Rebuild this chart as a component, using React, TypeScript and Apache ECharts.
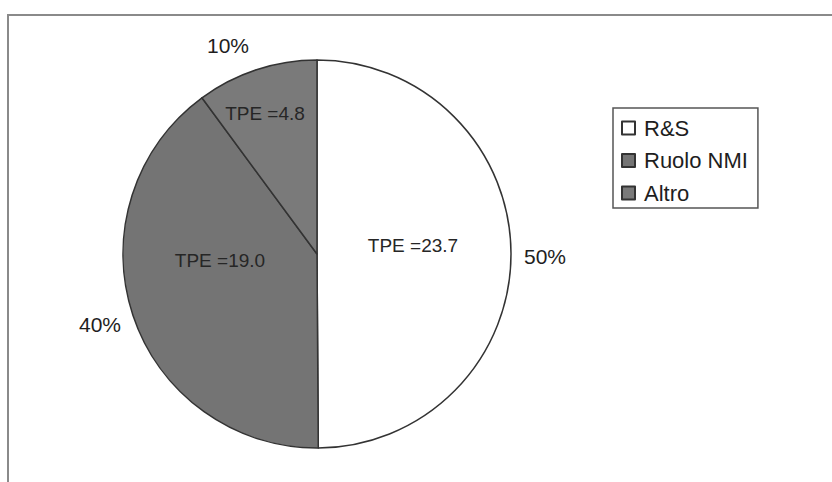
import React, { useEffect, useRef } from "react";
import * as echarts from "echarts";

const categories = ["R&S", "Ruolo NMI", "Altro"];
const tpeValues = [23.7, 19.0, 4.8];
const sliceColors = ["#ffffff", "#747474", "#7a7a7a"];

// label placements (chart px) for percent labels and TPE labels
const percentLabelPos = [
  [545, 256],
  [100, 324],
  [228, 45],
];
const tpeLabelPos = [
  [413, 245],
  [220, 260],
  [265, 113],
];

const FONT = "'Liberation Sans', Arial, sans-serif";

export default function App() {
  const ref = useRef<HTMLDivElement>(null);
  useEffect(() => {
    if (!ref.current) return;
    const chart = echarts.init(ref.current, null, { renderer: "svg" });
    const data = categories.map((name, i) => ({
      name,
      value: tpeValues[i],
      itemStyle: {
        color: sliceColors[i],
        borderColor: "#333333",
        borderWidth: 1.5,
      },
    }));
    const total = tpeValues.reduce((a, b) => a + b, 0);
    chart.setOption({
      animation: false,
      backgroundColor: "#ffffff",
      graphic: [
        {
          type: "rect",
          shape: { x: 8, y: 15, width: 900, height: 600 },
          style: { fill: "none", stroke: "#8a8a8a", lineWidth: 2 },
          silent: true,
          z: -10,
        },
      ],
      legend: {
        orient: "vertical",
        left: 613,
        top: 108,
        data: categories,
        icon: "rect",
        itemWidth: 13,
        itemHeight: 13,
        itemGap: 10.5,
        padding: [9, 10, 4, 8],
        borderColor: "#555555",
        borderWidth: 1.5,
        borderRadius: 0,
        textStyle: {
          fontFamily: FONT,
          fontSize: 22,
          lineHeight: 22,
          color: "#1e1e1e",
          padding: [0, 0, 0, 4],
        },
      },
      series: [
        {
          type: "pie",
          center: [317, 254],
          radius: 194,
          startAngle: 90,
          clockwise: true,
          avoidLabelOverlap: false,
          data,
          label: {
            show: true,
            position: "inside",
            fontFamily: FONT,
            fontSize: 21,
            color: "#1e1e1e",
            formatter: (p: any) => Math.round((p.value / total) * 100) + "%",
          },
          labelLine: { show: false },
          labelLayout: (p: any) => ({
            x: percentLabelPos[p.dataIndex][0],
            y: percentLabelPos[p.dataIndex][1],
            align: "center",
            verticalAlign: "middle",
          }),
          emphasis: { disabled: true },
        },
        {
          type: "pie",
          center: [317, 254],
          radius: 194,
          startAngle: 90,
          clockwise: true,
          silent: true,
          avoidLabelOverlap: false,
          data: categories.map((name, i) => ({
            name,
            value: tpeValues[i],
            itemStyle: { color: "rgba(0,0,0,0)", borderWidth: 0 },
          })),
          label: {
            show: true,
            position: "inside",
            fontFamily: FONT,
            fontSize: 19,
            color: "#262626",
            formatter: (p: any) => "TPE =" + Number(p.value).toFixed(1),
          },
          labelLine: { show: false },
          labelLayout: (p: any) => ({
            x: tpeLabelPos[p.dataIndex][0],
            y: tpeLabelPos[p.dataIndex][1],
            align: "center",
            verticalAlign: "middle",
          }),
          emphasis: { disabled: true },
        },
      ],
    });
    return () => chart.dispose();
  }, []);
  return (
    <div
      ref={ref}
      style={{ position: "fixed", left: 0, top: 0, width: 832, height: 482 }}
    />
  );
}
